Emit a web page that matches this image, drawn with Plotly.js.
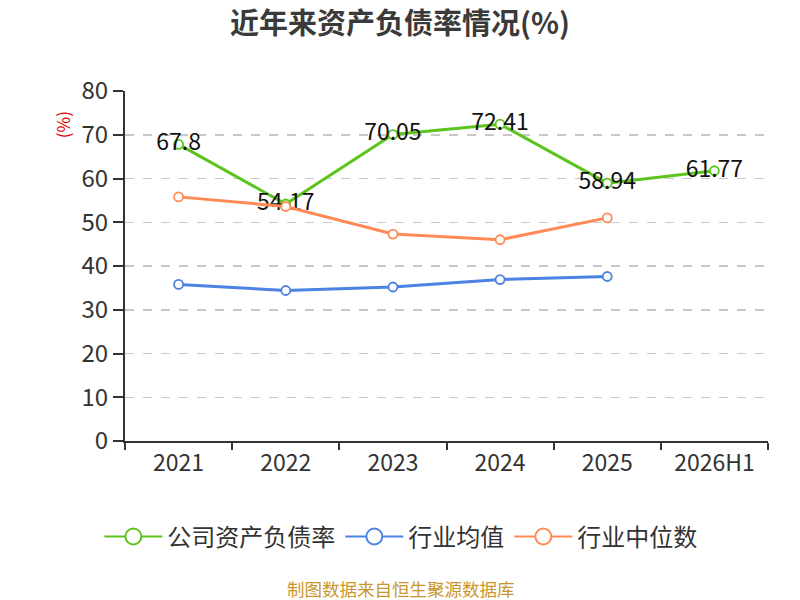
<!DOCTYPE html>
<html>
<head>
<meta charset="utf-8">
<script src="https://cdn.plot.ly/plotly-3.0.1.min.js"></script>
<style>
  html, body { margin: 0; padding: 0; background: #fff; }
  #chart { width: 800px; height: 600px; }
</style>
</head>
<body>
<div id="chart"></div>
<script>
// Data
const years = ['2021', '2022', '2023', '2024', '2025', '2026H1'];
const companyRatio = [67.8, 54.17, 70.05, 72.41, 58.94, 61.77];
const industryAvg = [35.8, 34.4, 35.2, 36.9, 37.6];
const industryMedian = [55.8, 53.6, 47.3, 46.0, 51.0];

const seriesNames = ['公司资产负债率', '行业均值', '行业中位数'];
const seriesColors = ['#5cc41c', '#4b82e3', '#ff8a55'];

const font = '"Noto Sans CJK SC", "Noto Sans", sans-serif';

function lineTrace(i, y, withText) {
  const color = seriesColors[i];
  const t = {
    x: years.slice(0, y.length),
    y: y,
    name: seriesNames[i],
    type: 'scatter',
    mode: withText ? 'lines+markers+text' : 'lines+markers',
    line: { color: color, width: 3 },
    marker: { symbol: 'circle', size: 9, color: '#fff', line: { color: color, width: 1.8 } },
    showlegend: false,
    cliponaxis: false
  };
  if (withText) {
    t.text = y.map(v => String(v));
    t.textposition = 'middle center';
    t.textfont = { family: font, size: 23, color: '#111' };
  }
  return t;
}

// legend-only entries with a bigger marker, like the original
function legendTrace(i) {
  const color = seriesColors[i];
  return {
    x: [null], y: [null],
    name: seriesNames[i],
    type: 'scatter',
    mode: 'lines+markers',
    line: { color: color, width: 2 },
    marker: { symbol: 'circle', size: 16, color: '#fff', line: { color: color, width: 2 } },
    showlegend: true
  };
}

const traces = [
  lineTrace(0, companyRatio, true),
  lineTrace(1, industryAvg, false),
  lineTrace(2, industryMedian, false),
  legendTrace(0), legendTrace(1), legendTrace(2)
];

const layout = {
  width: 800,
  height: 600,
  margin: { l: 125, r: 32, t: 91, b: 159 },
  paper_bgcolor: '#fff',
  plot_bgcolor: '#fff',
  font: { family: font, color: '#333' },
  title: {
    text: '<b>近年来资产负债率情况(%)</b>',
    font: { family: font, size: 29, color: '#3a3a3a' },
    x: 0.5, xanchor: 'center', y: 0.96, yanchor: 'middle'
  },
  xaxis: {
    type: 'category',
    range: [-0.5, 5.5],
    showline: true, linecolor: '#333', linewidth: 2,
    ticks: 'outside', tickson: 'boundaries', ticklen: 7, tickcolor: '#333', tickwidth: 2,
    showgrid: false,
    tickfont: { family: font, size: 23, color: '#333' },
    fixedrange: true
  },
  yaxis: {
    range: [0, 80],
    dtick: 10,
    showline: true, linecolor: '#333', linewidth: 2,
    ticks: 'outside', ticklen: 10, tickcolor: '#333', tickwidth: 2,
    showgrid: true, gridcolor: '#c8c8c8', griddash: 'dash', gridwidth: 1.5,
    zeroline: false,
    tickfont: { family: font, size: 24, color: '#333' },
    fixedrange: true
  },
  showlegend: true,
  legend: {
    orientation: 'h',
    x: 0.429, xanchor: 'center',
    y: -0.274, yanchor: 'middle',
    font: { family: font, size: 24, color: '#333' },
    itemsizing: 'trace',
    itemwidth: 58
  },
  annotations: [
    {
      text: '(%)', textangle: -90,
      xref: 'paper', yref: 'paper', x: -0.096, y: 0.903,
      xanchor: 'center', yanchor: 'middle',
      showarrow: false,
      font: { family: font, size: 17, color: '#e00000' }
    },
    {
      text: '制图数据来自恒生聚源数据库',
      xref: 'paper', yref: 'paper', x: 0.429, y: -0.42,
      xanchor: 'center', yanchor: 'middle',
      showarrow: false,
      font: { family: font, size: 17.5, color: '#c8962d' }
    }
  ]
};

Plotly.newPlot('chart', traces, layout, { displayModeBar: false, staticPlot: true });
</script>
</body>
</html>
